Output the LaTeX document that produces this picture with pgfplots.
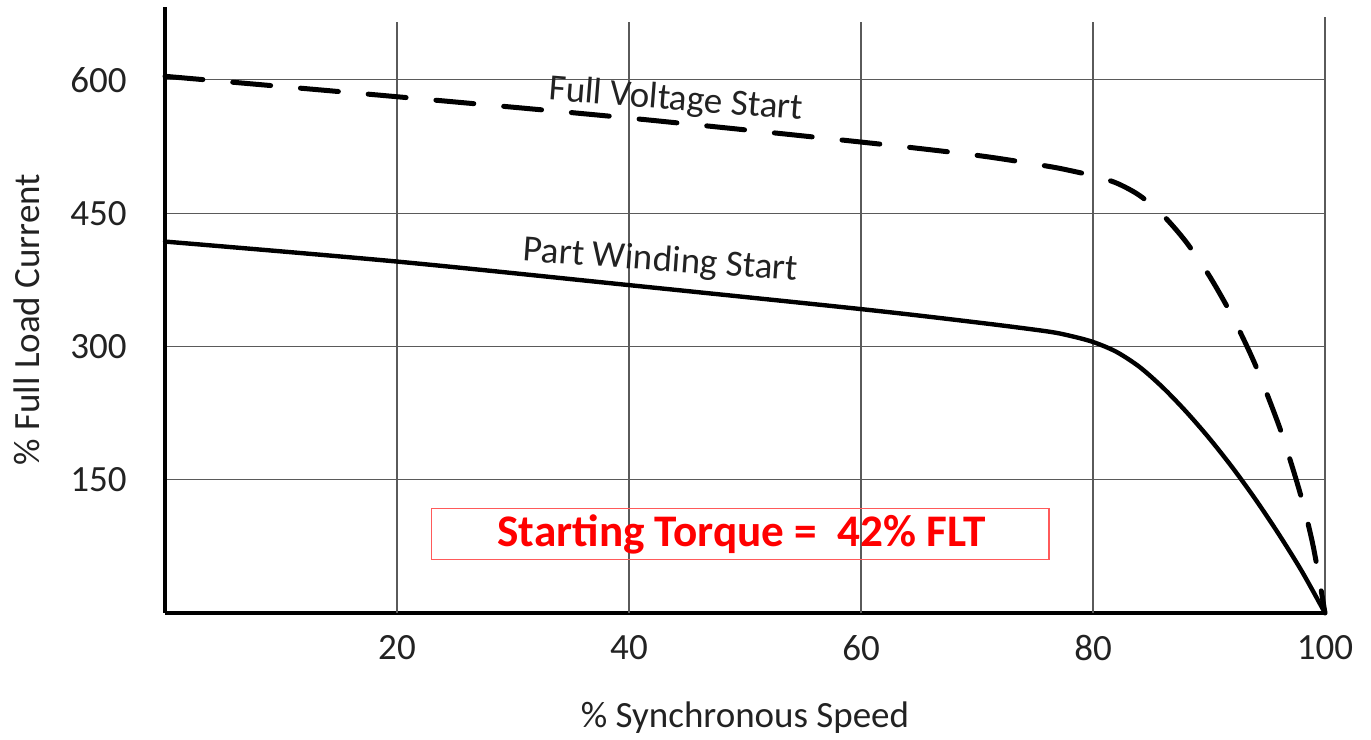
\documentclass[border=0pt]{standalone}
\usepackage{pgfplots}
\pgfplotsset{compat=1.18}
\usepackage{fontspec}
\setmainfont{Carlito}
\definecolor{txt}{HTML}{222222}
\definecolor{gridc}{HTML}{5A5A5A}
\definecolor{boxred}{HTML}{FF5A5A}
\begin{document}
\begin{tikzpicture}
\fontsize{18.5}{22}\selectfont
\begin{axis}[
  scale only axis, width=580pt, height=303pt,
  xmin=0, xmax=100, ymin=0, ymax=682,
  axis x line=bottom, axis y line=left,
  axis line style={-, line width=1.6pt, black},
  xtick={20,40,60,80,100}, ytick={150,300,450,600},
  major tick length=0pt,
  xmajorgrids=false, ymajorgrids=true, grid style={gridc, line width=0.55pt},
  /pgf/number format/assume math mode=true,
  tick label style={font=\fontsize{18.5}{22}\selectfont, text=txt, inner sep=0pt},
  xticklabel style={anchor=center, yshift=-17.5pt},
  yticklabel style={anchor=east, xshift=-19pt},
  xlabel={\% Synchronous Speed}, ylabel={\% Full Load Current},
  label style={font=\fontsize{18.5}{22}\selectfont, text=txt},
  xlabel style={at={(axis description cs:0.5,-0.173)}, anchor=center},
  ylabel style={at={(axis description cs:-0.119,0.484)}, anchor=center},
  clip=false,
]
\pgfplotsinvokeforeach{20,40,60,80}{\draw[gridc, line width=0.55pt] (axis cs:#1,0) -- (axis cs:#1,665);}
\draw[gridc, line width=0.55pt] (axis cs:100,0) -- (axis cs:100,671);
% Full Voltage Start
\addplot[black, line width=2.5pt, line cap=round, dash pattern=on 19pt off 15pt, smooth] coordinates {
 (0,604) (20,581) (40,557) (60,530) (70,515) (76,503) (78,498) (80,492) (82,484) (84,470) (86,448) (88,418) (90,380) (92,334) (94,279) (96,212) (97,172) (98,128) (99,74) (100,0)
};
% Part Winding Start
\addplot[black, line width=2.2pt, line cap=round, smooth] coordinates {
 (0,418) (20,395.5) (40,369) (60,342) (70,327) (76,317) (78,312) (80,305) (82,294) (84,277) (86,254) (88,227) (90,197) (92,164) (94,128) (96,89) (98,47) (100,0)
};
\node[text=txt, rotate=-4.5] at (axis cs:44.05,577) {Full Voltage Start};
\node[text=txt, rotate=-4.2] at (axis cs:42.7,396) {Part Winding Start};
\draw[boxred, line width=0.6pt] (axis cs:23,60) rectangle (axis cs:76.2,118);
\node[text=red, font=\bfseries\fontsize{22.6}{27}\selectfont] at (axis cs:49.7,88) {Starting Torque = \ 42\% FLT};
\end{axis}
\pgfresetboundingbox
\path ([shift={(-82.5pt,-63.5pt)}]current axis.south west) rectangle ([shift={(23pt,3.5pt)}]current axis.north east);
\end{tikzpicture}
\end{document}
